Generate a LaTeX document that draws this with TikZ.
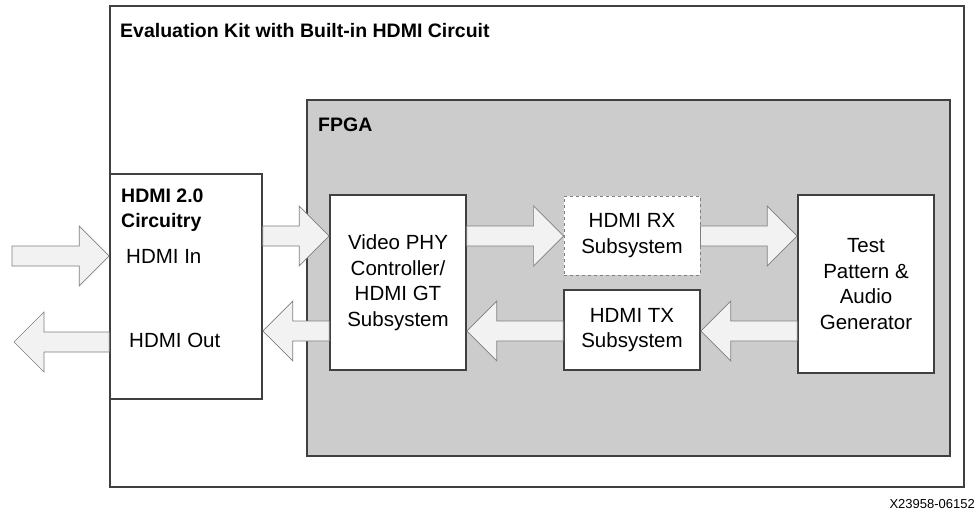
\documentclass[tikz,border=0pt]{standalone}
\usepackage{fontspec}
\setmainfont{Liberation Sans}
\usetikzlibrary{calc}
\definecolor{boxline}{HTML}{404040}
\definecolor{fpgagray}{HTML}{CCCCCC}
\definecolor{arrowfill}{HTML}{F2F2F2}
\definecolor{arrowline}{HTML}{7F7F7F}
\newcommand{\blockarrow}[2]{%
\path[fatarrow] let \p1=(#1), \p2=(#2), \n1={sign(\x2-\x1)} in
 (\x1,{\y1+10}) -- ({\x2-30*(\n1)},{\y1+10}) -- ({\x2-30*(\n1)},{\y1+30}) -- (\x2,\y1)
 -- ({\x2-30*(\n1)},{\y1-30}) -- ({\x2-30*(\n1)},{\y1-10}) -- (\x1,{\y1-10}) -- cycle;}
\begin{document}
\begin{tikzpicture}[x=1pt,y=-1pt,
  blk/.style={draw=boxline,line width=1.6pt,fill=white,minimum width=136pt,align=center,
    font=\fontsize{20.5}{25.5}\selectfont},
  lbl/.style={anchor=base west,inner sep=0pt,font=\fontsize{20.5}{25.5}\selectfont},
  fatarrow/.style={draw=arrowline,line width=0.7pt,fill=arrowfill,line join=miter}]
\useasboundingbox (0,0) rectangle (977,514);
\node[draw=boxline,line width=1.6pt,minimum width=854pt,minimum height=481pt,inner sep=0pt] (kit) at (537,246.5) {};
\node[lbl,font=\fontsize{19.5}{22}\selectfont\bfseries] (kittitle) at (120,37) {Evaluation Kit with Built-in HDMI Circuit};
\node[draw=boxline,line width=1.6pt,fill=fpgagray,minimum width=643pt,minimum height=356pt,inner sep=0pt] (fpga) at (628.5,278) {};
\node[lbl,font=\fontsize{19.5}{22}\selectfont\bfseries] (fpgatitle) at (318,131) {FPGA};
\node[blk,minimum width=152pt,minimum height=225pt] (circ) at (186,286.5) {};
\node[lbl,font=\fontsize{19.5}{25}\selectfont\bfseries,align=left,anchor=north west] (circtitle) at (121,189) {HDMI 2.0\\Circuitry};
\node[lbl] (hdmiin) at (126,263) {HDMI In};
\node[lbl] (hdmiout) at (129,347) {HDMI Out};
\node[blk,minimum height=175pt] (phy) at (398,282.5) {Video PHY\\Controller/\\HDMI GT\\Subsystem};
\node[blk,dashed,line width=0.8pt,draw=gray,minimum height=79pt] (rx) at (632,235.5) {HDMI RX\\Subsystem};
\node[blk,minimum height=80pt] (tx) at (632,330) {HDMI TX\\Subsystem};
\node[blk,minimum height=178pt] (tpg) at (866,284) {Test\\Pattern \&\\Audio\\Generator};
\node[lbl,font=\fontsize{13}{15}\selectfont,anchor=base east] (figid) at (975,508) {X23958-06152};
\coordinate (inrow) at (0,256);
\coordinate (outrow) at (0,342);
\coordinate (fwdrow) at (0,236);
\coordinate (backrow) at (0,331);
\coordinate (hin) at (12,256);
\coordinate (hout) at (14,342);
\blockarrow{hin}{circ.west |- inrow}
\blockarrow{circ.west |- outrow}{hout}
\blockarrow{circ.east |- fwdrow}{phy.west |- fwdrow}
\blockarrow{phy.west |- backrow}{circ.east |- backrow}
\blockarrow{phy.east |- fwdrow}{rx.west |- fwdrow}
\blockarrow{rx.east |- fwdrow}{tpg.west |- fwdrow}
\blockarrow{tpg.west |- backrow}{tx.east |- backrow}
\blockarrow{tx.west |- backrow}{phy.east |- backrow}
\end{tikzpicture}
\end{document}
